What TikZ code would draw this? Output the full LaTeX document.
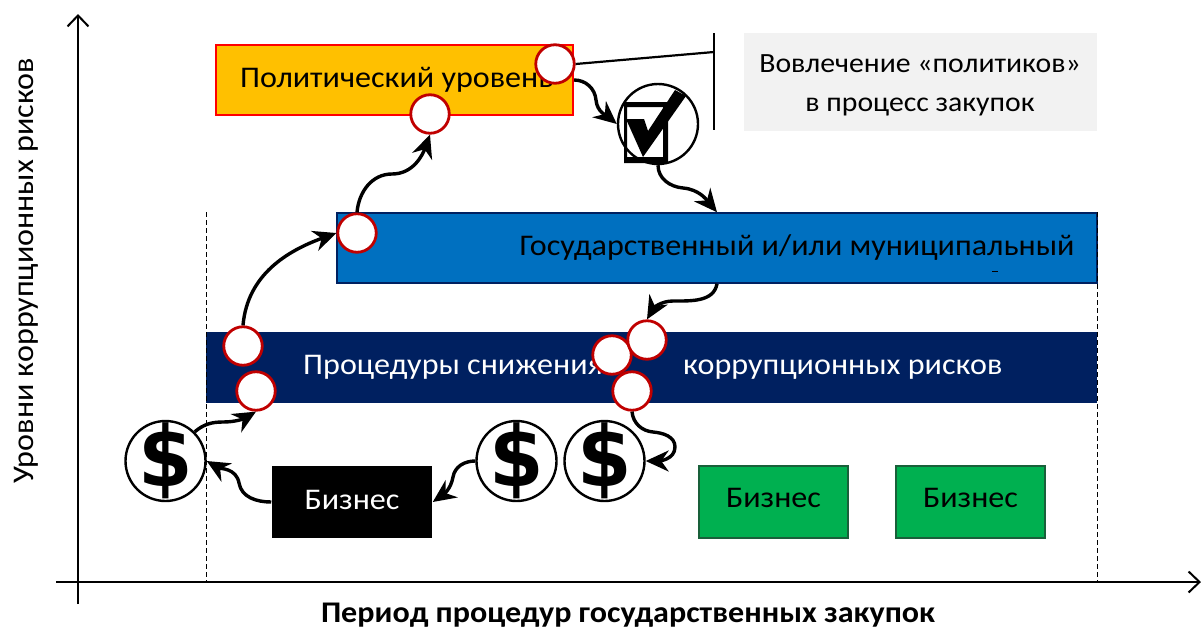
\documentclass[tikz,border=0pt]{standalone}
\usepackage{fontspec}
\setmainfont{Carlito}[FakeStretch=1.07]
\newfontfamily\dollarfont{DejaVu Sans}[BoldFont={DejaVu Sans Bold}]
\usetikzlibrary{arrows.meta}
\definecolor{gold}{HTML}{FFC000}
\definecolor{govblue}{HTML}{0070C0}
\definecolor{navy}{HTML}{002060}
\definecolor{biz}{HTML}{00B050}
\definecolor{dred}{HTML}{C00000}
\definecolor{pale}{HTML}{F2F2F2}
\tikzset{
  band/.style={rectangle,inner sep=0pt,line width=1.5pt},
  redring/.style={circle,draw=dred,fill=white,line width=2.8pt,minimum size=38.5pt,inner sep=0pt},
  dollarmark/.style={inner sep=0pt,font=\dollarfont\bfseries\fontsize{70}{70}\selectfont},
  coin/.style={circle,draw=black,fill=white,line width=2.4pt,minimum size=80pt,inner sep=0pt,
    label={[dollarmark]center:\scalebox{1.12}[1.2]{\$}}},
  flow/.style={line width=3.4pt,-{Stealth[length=23pt,width=21pt]}},
  axisline/.style={line width=2pt,-{Straight Barb[length=11pt,width=21pt,line width=2pt]}},
  guide/.style={line width=1pt,dash pattern=on 5pt off 3pt},
  txt/.style={inner sep=0pt,font=\fontsize{30}{34}\selectfont},
  infotxt/.style={inner sep=0pt,font=\fontsize{27.8}{34}\selectfont}
}
\begin{document}
\begin{tikzpicture}[x=1pt,y=-1pt]
\useasboundingbox (0,0) rectangle (1201,629);
% guides
\coordinate (g1t) at (206,212); \coordinate (g1b) at (206,582);
\coordinate (g2t) at (1097,212); \coordinate (g2b) at (1097,582);
% bands
\node[band,draw=red,line width=2.2pt,fill=gold,minimum width=357pt,minimum height=70pt] (pol) at (394.5,80) {};
\node[band,draw=navy,fill=govblue,minimum width=760pt,minimum height=70pt] (gov) at (717,248) {};
\node[band,fill=navy,minimum width=891pt,minimum height=71pt] (proc) at (651.5,367.5) {};
\draw[guide] (g1t) -- (g1b);
\draw[guide] (g2t) -- (g2b);
\node[rectangle,fill=pale,minimum width=353pt,minimum height=98pt,inner sep=0pt] (info) at (920.5,82) {};
\node[band,fill=black,minimum width=160pt,minimum height=72pt] (bus) at (352,502) {};
\node[band,draw=biz!50!black!80!gray,fill=biz,minimum width=149pt,minimum height=72pt] (g1) at (773.5,502) {};
\node[band,draw=biz!50!black!80!gray,fill=biz,minimum width=149pt,minimum height=72pt] (g2) at (970.5,502) {};
% texts
\node[txt,anchor=base west] (t1) at (240,87) {Политический уровень};
\node[txt,anchor=base] (t2) at (797,255) {Государственный и/или муниципальный};
\node[txt,anchor=base west,text=white] (t3) at (303,374) {Процедуры снижения};
\node[txt,anchor=base west,text=white] (t4) at (683,374) {коррупционных рисков};
\node[txt,anchor=base,text=white] (t5) at (352,509) {Бизнес};
\node[txt,anchor=base] (t6) at (773.5,507) {Бизнес};
\node[txt,anchor=base] (t7) at (970.5,507) {Бизнес};
\node[infotxt,anchor=base] (t8) at (920,72) {Вовлечение «политиков»};
\node[infotxt,anchor=base] (t9) at (920,111) {в процесс закупок};
\node[txt,anchor=base,rotate=90] (t10) at (33,271) {Уровни коррупционных рисков};
\node[txt,anchor=base,font=\bfseries\fontsize{30}{30}\selectfont] (t11) at (628,622.5) {Период процедур государственных закупок};
\draw[line width=1pt] (992,271) -- (998,271);
% axes
\coordinate (yb) at (78,604); \coordinate (yt) at (78,14);
\coordinate (xl) at (56,582); \coordinate (xr) at (1201,582);
\draw[axisline] (yb) -- (yt);
\draw[axisline] (xl) -- (xr);
% coins
\node[coin] (d1) at (165.5,461) {};
\node[coin] (d2) at (516.5,461) {};
\node[coin] (d3) at (604.5,461) {};
% check
\node[circle,draw=black,fill=white,line width=2.4pt,minimum size=80pt,inner sep=0pt] (chk) at (658,124) {};
\fill[black,even odd rule] (624,102) rectangle (668,163) (627,107) rectangle (663,157);
\fill[black] (626,119) -- (644,119) -- (648,131) -- (675,90) -- (686,96) -- (643,157) -- cycle;
% red rings
\node[redring] (r1) at (243,346) {};
\node[redring] (r2) at (256,391) {};
\node[redring] (r3) at (357,233) {};
\node[redring] (r4) at (430,114) {};
\node[redring] (r5) at (555,64) {};
\node[redring] (r7) at (632,391) {};
\node[redring] (r8) at (612,355) {};
\node[redring] (r6) at (647,340) {};
% callout
\coordinate (bt) at (714,33); \coordinate (bb) at (714,130); \coordinate (bm) at (714,52);
\draw[line width=2.2pt] (bt) -- (bb);
\draw[line width=2.2pt] (r5.east) -- (bm);
% connectors
\draw[flow] (pol.east) to[out=0,in=95] (596,100) to[out=-85,in=140] (chk.west);
\draw[flow] (chk.south) to[out=-90,in=175] (683,188) to[out=-5,in=130] (gov.north);
\draw[flow] (gov.south) to[out=-100,in=0] (673,301) to[out=180,in=60] (r6.north);
\draw[flow] (r7.south) to[out=-85,in=175] (653,432) to[out=-5,in=90] (675,447) to[out=-90,in=0] (d3.east);
\draw[flow] (d2.west) to[out=180,in=80] (453,477) to[out=-100,in=35] (bus.east);
\draw[flow] (bus.west) to[out=180,in=-80] (239,483) to[out=100,in=-30] (d1.east);
\draw[flow] (d1.45) to[out=40,in=180] (223,422) to[out=0,in=-150] (r2.south);
\draw[flow] (r1.north) to[out=85,in=-160] (r3.west);
\draw[flow] (r3.north) to[out=85,in=180] (392,174) to[out=0,in=-110] (r4.south);
\end{tikzpicture}
\end{document}
